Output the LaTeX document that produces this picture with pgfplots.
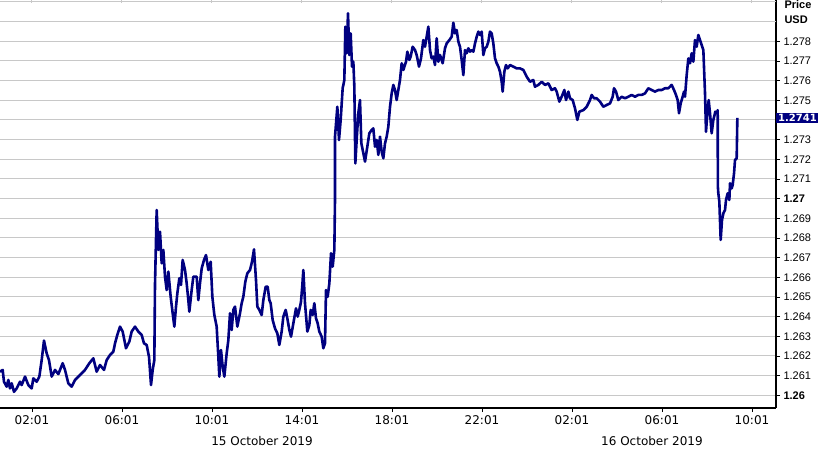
\documentclass[border=0pt]{standalone}
\usepackage{pgfplots}
\pgfplotsset{compat=1.18}
\usepackage{fontspec}
\setmainfont{DejaVu Sans}
\newfontfamily\narrowfont{Liberation Sans}
\definecolor{fxnavy}{RGB}{0,0,128}
\definecolor{gridgray}{RGB}{200,200,200}

% hours since 00:00 on 15 Oct 2019, GBP/USD
\pgfplotstableread{
h p
0.596 1.26120
0.714 1.26129
0.773 1.26069
0.892 1.26044
0.966 1.26078
1.040 1.26035
1.114 1.26061
1.218 1.26018
1.336 1.26035
1.484 1.26069
1.559 1.26052
1.707 1.26095
1.855 1.26052
2.003 1.26035
2.077 1.26086
2.225 1.26069
2.344 1.26095
2.448 1.26179
2.551 1.26278
2.670 1.26213
2.773 1.26179
2.892 1.26095
3.040 1.26129
3.188 1.26108
3.381 1.26163
3.485 1.26129
3.633 1.26061
3.781 1.26044
3.929 1.26078
4.151 1.26103
4.373 1.26129
4.566 1.26163
4.744 1.26188
4.892 1.26120
5.040 1.26154
5.218 1.26129
5.336 1.26179
5.485 1.26205
5.633 1.26222
5.707 1.26264
5.810 1.26307
5.929 1.26349
6.047 1.26324
6.196 1.26239
6.344 1.26273
6.447 1.26324
6.596 1.26349
6.744 1.26324
6.892 1.26307
6.996 1.26264
7.114 1.26256
7.218 1.26196
7.307 1.26052
7.381 1.26129
7.455 1.26179
7.484 1.26561
7.559 1.26942
7.633 1.26739
7.707 1.26832
7.781 1.26671
7.855 1.26739
7.929 1.26603
8.003 1.26535
8.077 1.26629
8.181 1.26501
8.270 1.26417
8.344 1.26349
8.418 1.26451
8.477 1.26518
8.566 1.26595
8.640 1.26561
8.714 1.26688
8.818 1.26637
8.892 1.26569
8.966 1.26484
9.010 1.26425
9.114 1.26535
9.188 1.26603
9.336 1.26603
9.410 1.26484
9.484 1.26569
9.559 1.26645
9.662 1.26688
9.751 1.26713
9.855 1.26637
9.959 1.26679
10.033 1.26501
10.122 1.26408
10.225 1.26349
10.299 1.26196
10.344 1.26095
10.418 1.26230
10.492 1.26146
10.566 1.26095
10.670 1.26213
10.744 1.26281
10.818 1.26417
10.892 1.26332
10.966 1.26434
11.040 1.26451
11.144 1.26349
11.262 1.26417
11.336 1.26468
11.410 1.26501
11.499 1.26578
11.588 1.26620
11.707 1.26637
11.796 1.26679
11.884 1.26742
11.973 1.26586
12.033 1.26451
12.122 1.26434
12.225 1.26408
12.299 1.26484
12.403 1.26552
12.492 1.26552
12.566 1.26484
12.625 1.26468
12.714 1.26383
12.818 1.26340
12.921 1.26315
13.010 1.26256
13.114 1.26324
13.188 1.26400
13.292 1.26434
13.366 1.26391
13.455 1.26332
13.529 1.26298
13.633 1.26366
13.751 1.26442
13.825 1.26400
13.899 1.26434
13.973 1.26476
14.033 1.26561
14.077 1.26637
14.151 1.26468
14.255 1.26324
14.344 1.26357
14.403 1.26434
14.492 1.26408
14.566 1.26468
14.640 1.26391
14.714 1.26366
14.788 1.26324
14.892 1.26298
14.966 1.26239
15.040 1.26264
15.084 1.26535
15.159 1.26501
15.233 1.26569
15.307 1.26722
15.381 1.26654
15.455 1.26739
15.484 1.26993
15.484 1.27315
15.588 1.27467
15.662 1.27298
15.736 1.27400
15.825 1.27561
15.899 1.27603
15.944 1.27874
16.003 1.27739
16.062 1.27942
16.121 1.27730
16.181 1.27840
16.240 1.27671
16.299 1.27696
16.344 1.27569
16.388 1.27179
16.447 1.27298
16.521 1.27434
16.595 1.27501
16.655 1.27281
16.744 1.27230
16.818 1.27188
16.921 1.27264
17.010 1.27332
17.114 1.27349
17.188 1.27357
17.262 1.27264
17.336 1.27298
17.410 1.27222
17.484 1.27315
17.558 1.27239
17.633 1.27205
17.707 1.27281
17.781 1.27315
17.855 1.27366
17.929 1.27467
18.003 1.27535
18.077 1.27578
18.151 1.27552
18.225 1.27501
18.299 1.27552
18.373 1.27603
18.447 1.27688
18.521 1.27654
18.640 1.27696
18.699 1.27747
18.788 1.27705
18.847 1.27722
18.936 1.27772
19.040 1.27755
19.114 1.27730
19.218 1.27671
19.306 1.27713
19.410 1.27806
19.484 1.27772
19.558 1.27823
19.633 1.27874
19.707 1.27755
19.781 1.27713
19.855 1.27722
19.929 1.27679
20.003 1.27815
20.077 1.27696
20.151 1.27730
20.270 1.27688
20.373 1.27764
20.447 1.27789
20.566 1.27806
20.670 1.27823
20.744 1.27894
20.818 1.27840
20.892 1.27857
20.966 1.27798
21.040 1.27772
21.114 1.27705
21.188 1.27628
21.262 1.27755
21.336 1.27739
21.410 1.27764
21.484 1.27747
21.558 1.27755
21.633 1.27747
21.707 1.27789
21.781 1.27823
21.855 1.27849
21.929 1.27832
22.003 1.27849
22.077 1.27730
22.151 1.27764
22.225 1.27772
22.299 1.27798
22.373 1.27849
22.447 1.27840
22.521 1.27789
22.595 1.27713
22.670 1.27688
22.744 1.27671
22.818 1.27645
22.892 1.27594
22.936 1.27544
23.010 1.27645
23.084 1.27679
23.158 1.27662
23.262 1.27679
23.410 1.27671
23.558 1.27662
23.706 1.27662
23.855 1.27654
24.003 1.27620
24.151 1.27594
24.299 1.27603
24.373 1.27569
24.521 1.27578
24.670 1.27594
24.818 1.27578
24.966 1.27586
25.114 1.27552
25.262 1.27561
25.336 1.27544
25.455 1.27493
25.558 1.27518
25.677 1.27552
25.751 1.27501
25.855 1.27544
25.929 1.27510
26.047 1.27501
26.151 1.27459
26.255 1.27400
26.344 1.27442
26.521 1.27450
26.670 1.27467
26.818 1.27501
26.892 1.27527
26.996 1.27510
27.114 1.27510
27.262 1.27493
27.410 1.27467
27.558 1.27476
27.707 1.27484
27.825 1.27518
27.884 1.27561
27.973 1.27544
28.077 1.27501
28.225 1.27518
28.373 1.27510
28.521 1.27518
28.670 1.27527
28.818 1.27518
28.966 1.27527
29.114 1.27527
29.262 1.27535
29.410 1.27561
29.558 1.27552
29.706 1.27544
29.855 1.27552
30.003 1.27552
30.151 1.27561
30.299 1.27561
30.447 1.27578
30.551 1.27552
30.640 1.27527
30.714 1.27501
30.773 1.27434
30.847 1.27484
30.936 1.27518
30.996 1.27544
31.040 1.27518
31.114 1.27628
31.188 1.27713
31.262 1.27688
31.336 1.27739
31.410 1.27696
31.484 1.27806
31.558 1.27772
31.632 1.27832
31.706 1.27806
31.781 1.27781
31.855 1.27755
31.929 1.27535
31.973 1.27340
32.033 1.27434
32.092 1.27501
32.151 1.27434
32.225 1.27332
32.299 1.27400
32.388 1.27442
32.477 1.27434
32.492 1.27450
32.500 1.27061
32.521 1.27027
32.566 1.26984
32.625 1.26790
32.684 1.26891
32.744 1.26925
32.818 1.26942
32.862 1.26993
32.936 1.27027
33.010 1.26993
33.040 1.27078
33.114 1.27052
33.158 1.27069
33.218 1.27128
33.262 1.27196
33.336 1.27205
33.366 1.27410
}\gbpusd

\begin{document}
\begin{tikzpicture}
  \begin{axis}[
      name=ax,
      scale only axis,
      width=776bp, height=408bp,
      xmin=0.5956, xmax=35.084,
      ymin=1.259354, ymax=1.280097,
      axis x line=bottom, axis y line=right,
      axis line style={-, black, line width=1.2bp},
      tick align=outside,
      major tick length=4bp,
      tick style={black, line width=0.8bp},
      xtick={2.0167,6.0167,10.0167,14.0167,18.0167,22.0167,26.0167,30.0167,34.0167},
      xticklabels={02:01,06:01,10:01,14:01,18:01,22:01,02:01,06:01,10:01},
      ytick={1.260,1.261,1.262,1.263,1.264,1.265,1.266,1.267,1.268,1.269,1.270,1.271,1.272,1.273,1.274,1.275,1.276,1.277,1.278},
      yticklabels={\textbf{1.26},1.261,1.262,1.263,1.264,1.265,1.266,1.267,1.268,1.269,\textbf{1.27},1.271,1.272,1.273,,1.275,1.276,1.277,1.278},
      extra y ticks={1.279,1.280},
      extra y tick labels={},
      extra y tick style={major tick length=0pt, ymajorgrids},
      xticklabel style={font=\fontsize{12bp}{14bp}\selectfont},
      yticklabel style={font=\narrowfont\fontsize{11bp}{13bp}\selectfont},
      ymajorgrids,
      major grid style={gridgray, line width=1bp},
      clip mode=individual,
    ]
    % short grey stubs at the top edge, above each time tick
    \pgfplotsinvokeforeach{2.0167,6.0167,10.0167,14.0167,18.0167,22.0167,26.0167,30.0167,34.0167}{
      \draw[gridgray, line width=1bp] (axis cs:#1,1.280097) -- ([yshift=-3bp]axis cs:#1,1.280097);
    }
    \addplot[color=fxnavy, line width=2.6bp, line join=round, no markers] table[x=h, y=p] {\gbpusd};
    \node[anchor=west, fill=fxnavy, text=white, inner xsep=2bp, inner ysep=1bp,
          font=\bfseries\fontsize{10bp}{12bp}\selectfont] at (axis cs:35.084,1.2741) {1.2741};
    \node[font=\fontsize{12bp}{14bp}\selectfont] at (axis cs:12.24,1.259354) [yshift=-33bp] {15 October 2019};
    \node[font=\fontsize{12bp}{14bp}\selectfont] at (axis cs:29.57,1.259354) [yshift=-33bp] {16 October 2019};
  \end{axis}
  \node[anchor=west, font=\narrowfont\bfseries\fontsize{11bp}{13bp}\selectfont] at ([xshift=5bp,yshift=-5bp]ax.north east) {Price};
  \node[anchor=west, font=\narrowfont\bfseries\fontsize{11bp}{13bp}\selectfont] at ([xshift=5bp,yshift=-20bp]ax.north east) {USD};
  \pgfresetboundingbox
  \path[use as bounding box] ([yshift=-42bp]ax.south west) rectangle ([xshift=42bp]ax.north east);
\end{tikzpicture}
\end{document}
